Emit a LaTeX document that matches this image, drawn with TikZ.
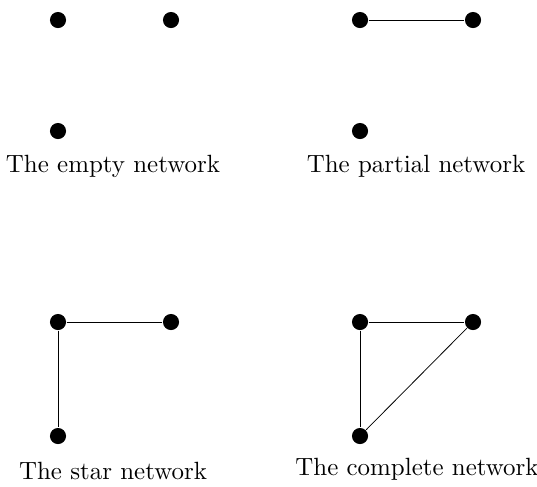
\documentclass[tikz,border=0pt]{standalone}
\usepackage{tikz}

\begin{document}
\begin{tikzpicture}[x=0.385pt,y=-0.385pt,
	vert/.style={circle, fill=black, inner sep=0pt, minimum size=6.2pt},
	edge/.style={draw, line width=0.3pt},
	every node/.append style={font=\fontsize{9.6}{11}\selectfont}]
	\path[use as bounding box] (0,0) rectangle (537,486);
	
	% empty network
	\node[vert] (ea) at (58,20) {};
	\node[vert] (eb) at (171,20) {};
	\node[vert] (ec) at (58,131) {};
	\node (el) at (113,166) {The empty network};
	
	% partial network
	\node[vert] (pa) at (360,20) {};
	\node[vert] (pb) at (473,20) {};
	\node[vert] (pc) at (360,131) {};
	\node (pl) at (416,166) {The partial network};
	\draw[edge] (pa) -- (pb);
	
	% star network
	\node[vert] (sa) at (58,322) {};
	\node[vert] (sb) at (171,322) {};
	\node[vert] (sc) at (58,436) {};
	\node (sl) at (113,471) {The star network};
	\draw[edge] (sa) -- (sb);
	\draw[edge] (sa) -- (sc);
	
	% complete network
	\node[vert] (ca) at (360,322) {};
	\node[vert] (cb) at (473,322) {};
	\node[vert] (cc) at (360,436) {};
	\node (cl) at (417,469) {The complete network};
	\draw[edge] (ca) -- (cb);
	\draw[edge] (ca) -- (cc);
	\draw[edge] (cb) -- (cc);
	
\end{tikzpicture}
\end{document}
